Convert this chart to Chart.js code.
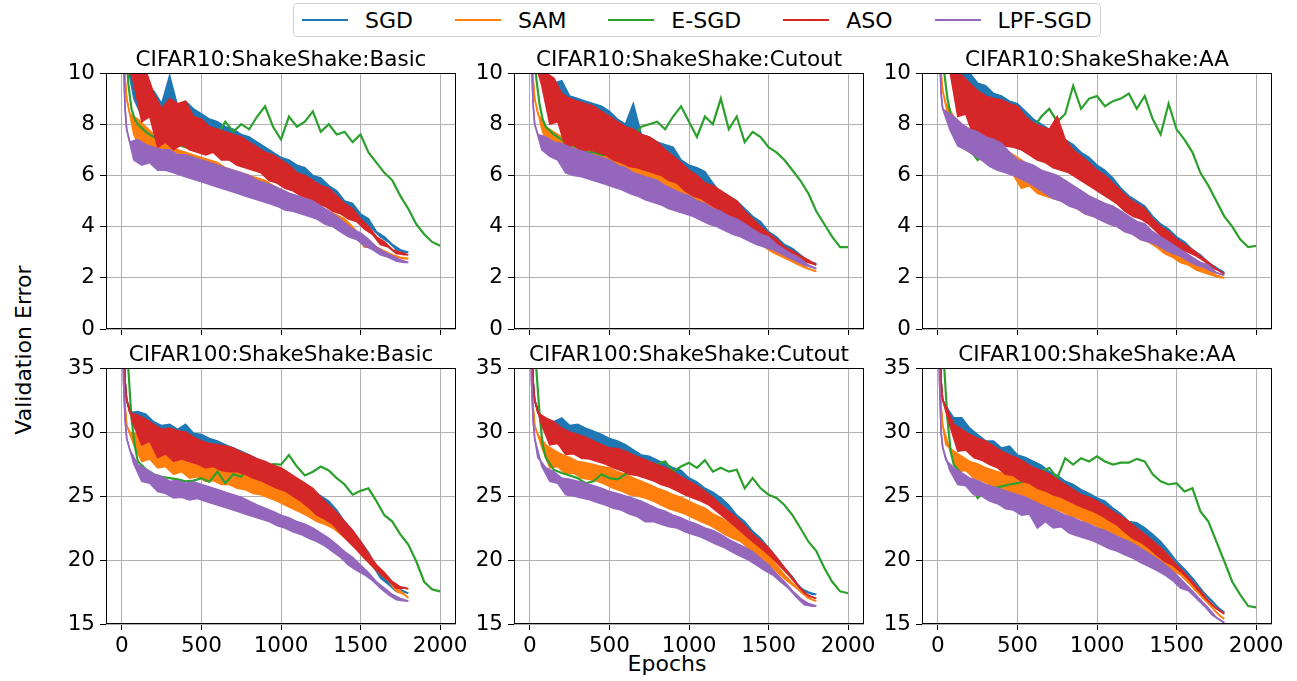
<!DOCTYPE html>
<html>
<head>
<meta charset="utf-8">
<script src="https://cdn.jsdelivr.net/npm/chart.js@4.4.0/dist/chart.umd.min.js"></script>
<style>
  body { margin: 0; background: #fff; width: 1297px; height: 681px; overflow: hidden; position: relative;
         font-family: "DejaVu Sans", sans-serif; color: #000; }
  canvas.panel { position: absolute; }
  #legend { position: absolute; left: 293px; top: 3px; height: 34px; box-sizing: border-box;
            border: 1px solid #d0d0d0; border-radius: 4px; display: flex; align-items: center;
            padding: 0 8px; font-size: 22px; background: #fff; }
  #legend .handle { display: inline-block; width: 46px; height: 2.5px; margin-right: 17px; }
  #legend .lbl { margin-right: 42px; }
  #legend .lbl:last-child { margin-right: 0; }
  #ylabel { position: absolute; left: 23px; top: 350px; font-size: 22px; white-space: nowrap;
            transform: translate(-50%, -50%) rotate(-90deg); }
  #xlabel { position: absolute; left: 667px; top: 653px; font-size: 22px; line-height: 22px;
            transform: translateX(-50%); }
</style>
</head>
<body>
<div id="legend"></div>
<div id="ylabel">Validation Error</div>
<div id="xlabel">Epochs</div>

<script>
// From index 4 on, the noisy runs alternate: top of the noise band, bottom of the band.
const EPOCHS = [0,10,20,30,50,75,100,125,150,175,200,225,250,275,300,325,350,375,400,425,450,475,500,525,550,575,600,625,650,675,700,725,750,775,800,825,850,875,900,925,950,975,1000,1025,1050,1075,1100,1125,1150,1175,1200,1225,1250,1275,1300,1325,1350,1375,1400,1425,1450,1475,1500,1525,1550,1575,1600,1625,1650,1675,1700,1725,1750,1775,1800];
const ESGD_EPOCHS = [0,20,40,60,80,100,150,200,250,300,350,400,450,500,550,600,650,700,750,800,850,900,950,1000,1050,1100,1150,1200,1250,1300,1350,1400,1450,1500,1550,1600,1650,1700,1750,1800,1850,1900,1950,2000];

const X_TICKS = [0, 500, 1000, 1500, 2000];
const Y_TICKS_C10 = [0, 2, 4, 6, 8, 10];
const Y_TICKS_C100 = [15, 20, 25, 30, 35];

const SERIES = ['SGD', 'SAM', 'E-SGD', 'ASO', 'LPF-SGD'];
const COLORS = ['#1f77b4', '#ff7f0e', '#2ca02c', '#d62728', '#9467bd'];

// ---- CIFAR10 : ShakeShake : Basic ----
const c10Basic_sgd = [18,14,11.5,10.5, 10.2,9.0,
  9.8,8.3,9.4,8.4, 9.3,7.7,8.8,7.9, 9.9,7.6,8.7,7.5, 8.9,7.4,8.6,7.3, 8.4,7.2,8.2,7.1,
  8.1,6.9,7.9,7.0, 7.8,6.7,7.6,6.6, 7.5,6.5,7.3,6.4, 7.1,6.2,6.9,6.1, 6.7,5.8,6.6,5.7,
  6.4,5.5,6.3,5.4, 6.0,5.2,5.9,5.1, 5.6,4.9,5.4,4.8, 5.0,4.6,4.9,4.5, 4.5,4.1,4.3,3.9,
  3.8,3.6,3.6,3.4, 3.3,3.1,3.1,3.0, 3.0];
const c10Basic_sam = [17,12,9.8,9.0, 8.4,7.6,
  8.2,6.9,7.9,7.0, 7.6,6.5,7.4,6.5, 7.1,6.4,7.0,6.3, 6.9,6.2,6.8,6.1, 6.7,6.0,6.6,5.9,
  6.5,5.8,6.3,5.7, 6.2,5.6,6.1,5.5, 6.0,5.4,5.9,5.3, 5.8,5.2,5.6,5.0, 5.45,4.9,5.3,4.8,
  5.2,4.6,5.0,4.5, 4.95,4.4,4.75,4.3, 4.6,4.1,4.45,4.0, 4.3,3.8,4.0,3.6, 3.6,3.2,3.4,3.2,
  3.2,3.0,3.05,2.95, 2.9,2.8,2.8,2.75, 2.75];
const c10Basic_esgd = [18,12,9.6,8.6,8.2,8.0,
  7.7,7.5,7.3,7.4,7.2,7.1,7.3,7.5,7.7,7.6,
  8.1,7.7,8.0,7.8,8.3,8.7,7.9,7.4,8.3,7.9,
  8.1,8.5,7.7,8.0,7.6,7.7,7.3,7.6,6.9,6.5,
  6.1,5.8,5.2,4.7,4.1,3.7,3.4,3.25];
const c10Basic_aso = [18,14,11.5,10.5, 10.3,9.6,
  10.0,8.1,10.1,8.3, 9.2,7.1,8.6,7.3, 9.0,7.0,8.8,7.2, 8.9,7.0,8.3,6.9, 8.2,6.8,7.9,6.9,
  7.8,6.6,7.7,6.6, 7.6,6.4,7.5,6.3, 7.3,6.2,7.1,6.1, 6.9,5.8,6.8,5.7, 6.6,5.5,6.4,5.4,
  6.1,5.2,6.0,5.1, 5.8,4.9,5.6,4.8, 5.5,4.6,5.2,4.5, 4.9,4.3,4.7,4.2, 4.3,3.9,4.0,3.7,
  3.6,3.3,3.4,3.2, 3.1,2.95,3.0,2.9, 2.9];
const c10Basic_lpf = [16,10.5,8.6,7.8, 7.3,6.6,
  7.4,6.4,7.2,6.5, 7.1,6.2,7.0,6.2, 7.0,6.1,6.8,6.0, 6.8,5.9,6.7,5.8, 6.6,5.7,6.5,5.6,
  6.4,5.5,6.3,5.4, 6.2,5.3,6.1,5.2, 6.0,5.1,5.8,5.0, 5.7,4.9,5.6,4.8, 5.45,4.65,5.3,4.6,
  5.2,4.5,5.1,4.4, 5.0,4.3,4.8,4.1, 4.6,4.0,4.4,3.8, 4.15,3.6,3.9,3.5, 3.75,3.25,3.5,3.1,
  3.2,2.9,3.0,2.8, 2.85,2.65,2.7,2.6, 2.6];

// ---- CIFAR10 : ShakeShake : Cutout ----
const c10Cutout_sgd = [18,14,11.5,10.5, 10.2,9.7,
  10.0,8.3,9.6,8.4, 9.7,7.6,9.1,7.6, 9.0,7.3,8.9,7.2, 8.8,7.0,8.7,7.0, 8.5,6.8,8.2,6.7,
  8.0,6.5,8.8,6.6, 7.6,6.3,7.5,6.2, 7.3,6.1,7.2,6.0, 7.1,5.9,6.6,5.7, 6.4,5.4,6.3,5.3,
  6.15,5.0,5.7,4.9, 5.3,4.5,5.2,4.5, 5.0,4.3,4.7,4.1, 4.4,3.9,4.2,3.7, 3.8,3.45,3.6,3.3,
  3.3,3.1,3.15,3.0, 2.9,2.7,2.65,2.6, 2.55];
const c10Cutout_sam = [17,12,9.8,9.0, 8.4,7.8,
  7.9,6.9,7.7,6.8, 7.5,6.4,7.3,6.3, 7.2,6.2,7.1,6.1, 7.0,6.0,6.9,5.8, 6.8,5.6,6.6,5.6,
  6.5,5.5,6.4,5.4, 6.3,5.3,6.2,5.2, 6.1,5.1,5.9,5.0, 5.8,4.9,5.6,4.7, 5.5,4.6,5.3,4.5,
  5.2,4.3,5.0,4.2, 4.8,4.0,4.6,3.9, 4.4,3.7,4.1,3.6, 3.9,3.4,3.6,3.2, 3.4,3.0,3.1,2.85,
  2.9,2.7,2.75,2.55, 2.6,2.4,2.35,2.3, 2.25];
const c10Cutout_esgd = [18,12,9.8,8.8,8.2,7.9,
  7.6,7.4,7.2,7.1,6.9,6.9,6.8,6.8,7.0,7.3,
  7.5,7.9,8.0,8.1,7.8,8.3,8.7,8.1,7.5,8.3,
  8.0,9.0,7.8,8.3,7.3,7.7,7.5,7.1,6.9,6.6,
  6.2,5.8,5.3,4.6,4.1,3.6,3.2,3.2];
const c10Cutout_aso = [18,14,11.5,10.5, 10.1,9.5,
  10.0,8.0,9.8,8.1, 9.2,7.1,9.0,7.2, 8.9,6.95,8.8,7.0, 8.7,6.9,8.5,6.8, 8.3,6.6,8.1,6.5,
  7.9,6.35,7.8,6.3, 7.6,6.2,7.5,6.1, 7.3,6.0,7.0,5.8, 6.75,5.7,6.5,5.4, 6.2,5.2,6.0,5.1,
  5.7,4.9,5.6,4.7, 5.4,4.5,5.2,4.4, 5.0,4.2,4.6,4.0, 4.3,3.75,4.0,3.6, 3.75,3.35,3.5,3.2,
  3.2,3.0,3.05,2.9, 2.85,2.65,2.7,2.55, 2.5];
const c10Cutout_lpf = [16,10.5,8.8,8.0, 7.6,7.0,
  7.5,6.75,7.3,6.6, 7.25,6.1,7.1,6.0, 7.0,5.95,6.9,5.85, 6.8,5.75,6.7,5.65, 6.6,5.55,6.4,5.45,
  6.3,5.3,6.1,5.2, 6.0,5.05,5.9,4.95, 5.8,4.85,5.6,4.7, 5.45,4.6,5.3,4.5, 5.2,4.4,5.0,4.25,
  4.9,4.1,4.7,4.0, 4.6,3.85,4.4,3.7, 4.3,3.6,4.1,3.45, 3.9,3.3,3.7,3.2, 3.6,3.1,3.3,2.95,
  3.1,2.8,2.9,2.65, 2.75,2.5,2.5,2.4, 2.35];

// ---- CIFAR10 : ShakeShake : AA ----
const c10AA_sgd = [18,14,12,11, 10.5,10.2,
  10.0,8.5,10.3,8.6, 10.0,7.7,9.6,7.8, 9.5,7.5,9.2,7.4, 9.1,7.3,8.9,7.2, 8.8,7.1,8.5,6.9,
  8.2,6.7,8.0,6.6, 7.8,6.4,7.6,6.3, 7.4,6.1,7.2,6.0, 6.9,5.8,6.7,5.6, 6.4,5.4,6.2,5.2,
  5.9,5.0,5.5,4.8, 5.2,4.5,5.0,4.4, 4.8,4.2,4.4,3.9, 4.1,3.6,3.9,3.5, 3.6,3.2,3.4,3.05,
  3.1,2.9,2.9,2.7, 2.6,2.45,2.4,2.3, 2.2];
const c10AA_sam = [17,12,10,9.3, 8.8,8.0,
  8.3,7.2,8.0,7.0, 7.8,6.8,7.6,6.6, 7.4,6.5,7.2,6.3, 7.1,6.2,6.9,6.0, 6.7,5.5,6.5,5.6,
  6.3,5.3,6.2,5.2, 6.0,5.1,5.8,5.0, 5.7,4.9,5.5,4.7, 5.3,4.5,5.1,4.4, 5.0,4.4,4.8,4.2,
  4.6,4.0,4.4,3.9, 4.2,3.7,4.0,3.5, 3.8,3.4,3.6,3.2, 3.4,2.95,3.2,2.8, 2.95,2.6,2.75,2.5,
  2.6,2.3,2.4,2.2, 2.3,2.1,2.1,2.0, 2.0];
const c10AA_esgd = [18,12,10,9.0,8.4,8.0,
  7.4,7.0,6.6,6.9,7.1,7.3,7.2,7.5,7.6,7.85,
  8.3,8.6,8.1,8.4,9.5,8.6,9.0,9.1,8.7,8.9,
  9.0,9.2,8.6,9.1,8.2,7.6,8.8,7.8,7.4,6.9,
  6.1,5.6,5.0,4.4,4.0,3.5,3.2,3.25];
const c10AA_aso = [18,14,12,11, 10.4,10.1,
  10.0,8.3,9.9,8.4, 9.6,7.5,9.3,7.6, 9.1,7.4,9.0,7.3, 8.95,7.15,8.8,7.1, 8.7,7.0,8.3,6.8,
  8.05,6.6,7.9,6.5, 7.8,6.3,8.3,6.2, 7.4,6.1,7.0,5.9, 6.75,5.7,6.5,5.5, 6.2,5.3,6.0,5.1,
  5.7,4.9,5.4,4.6, 5.1,4.4,4.9,4.3, 4.7,4.1,4.3,3.8, 4.0,3.5,3.8,3.3, 3.5,3.1,3.3,3.0,
  3.1,2.85,2.85,2.65, 2.6,2.4,2.35,2.25, 2.15];
const c10AA_lpf = [16,11,9.2,8.6, 8.5,7.8,
  8.3,7.15,8.0,7.0, 7.8,6.8,7.7,6.6, 7.5,6.35,7.4,6.2, 7.25,6.1,6.9,6.0, 6.6,5.85,6.5,5.7,
  6.4,5.5,6.2,5.3, 6.1,5.1,6.0,5.0, 5.8,4.8,5.6,4.7, 5.4,4.5,5.2,4.4, 5.05,4.25,4.9,4.1,
  4.8,4.0,4.6,3.8, 4.4,3.7,4.2,3.5, 4.1,3.4,3.8,3.3, 3.6,3.1,3.4,2.95, 3.2,2.85,3.0,2.65,
  2.8,2.5,2.6,2.4, 2.5,2.25,2.2,2.15, 2.1];

// ---- CIFAR100 : ShakeShake : Basic ----
const c100Basic_sgd = [45,38,34,32.5, 31.5,31.2,
  31.6,30.0,31.4,30.2, 30.8,29.0,30.5,29.2, 30.6,28.5,30.2,28.6, 30.6,28.2,29.9,28.3, 29.8,27.7,29.5,27.9,
  29.3,27.6,29.0,27.5, 28.75,27.45,28.5,27.2, 28.2,26.9,27.9,26.6, 27.5,26.3,27.2,26.0, 26.7,25.6,26.5,25.3,
  26.15,24.85,25.8,24.5, 25.4,24.0,25.0,23.7, 24.6,23.0,23.9,22.3, 23.0,21.45,22.3,21.0, 21.45,20.15,20.6,19.6,
  19.4,18.6,18.8,18.1, 18.1,17.55,17.7,17.5, 17.4];
const c100Basic_sam = [44,36,32,30.5, 30.0,29.0,
  29.8,27.7,29.4,27.9, 29.0,27.2,28.8,27.3, 28.5,26.7,28.4,26.9, 28.2,26.4,28.0,26.5, 27.95,26.15,27.7,26.2,
  27.6,25.9,27.4,25.9, 27.2,25.6,27.0,25.5, 26.8,25.2,26.6,25.1, 26.4,24.85,26.0,24.6, 25.6,24.3,25.3,24.0,
  25.0,23.7,24.7,23.4, 24.3,23.0,23.9,22.8, 23.5,22.5,23.1,22.0, 22.5,21.45,21.9,20.9, 21.2,20.15,20.4,19.6,
  19.6,18.9,19.0,18.4, 18.1,17.55,17.6,17.3, 17.05];
const c100Basic_esgd = [48,42,35,31.1,29.0,27.7,
  27.1,26.7,26.5,26.4,26.3,26.15,26.2,26.4,26.1,26.9,
  26.0,26.7,26.5,27.45,27.6,27.2,27.5,27.45,28.2,27.3,
  26.6,26.9,27.3,27.0,26.4,25.9,25.1,25.4,25.6,24.6,
  23.5,23.0,22.0,21.2,19.9,18.3,17.7,17.55];
const c100Basic_aso = [45,38,34,32.5, 31.5,30.5,
  31.3,29.0,31.0,29.3, 30.6,28.0,30.2,28.3, 30.3,27.7,30.1,27.9, 30.0,27.7,29.6,27.5, 29.3,27.2,29.1,27.3,
  29.0,27.0,28.9,26.9, 28.75,26.9,28.4,26.7, 28.2,26.4,27.9,26.2, 27.7,25.9,27.4,25.6, 27.2,25.4,26.8,25.0,
  26.4,24.6,26.0,24.1, 25.6,23.5,24.9,23.2, 24.3,22.8,23.7,22.1, 23.0,21.45,22.3,20.8, 21.45,20.15,20.5,19.5,
  19.6,18.9,19.0,18.4, 18.3,17.8,17.9,17.8, 17.75];
const c100Basic_lpf = [43,34,31,29.5, 28.6,27.5,
  27.45,26.15,27.1,26.0, 26.7,25.35,26.5,25.2, 26.15,24.85,26.2,24.9, 26.0,24.7,26.1,24.8, 25.9,24.6,25.7,24.4,
  25.5,24.2,25.3,24.0, 25.1,23.8,24.9,23.6, 24.6,23.4,24.3,23.2, 24.05,23.0,23.8,22.7, 23.5,22.5,23.3,22.2,
  23.0,22.0,22.8,21.7, 22.5,21.45,22.1,21.1, 21.7,20.65,21.2,20.2, 20.65,19.6,20.2,19.2, 19.6,18.85,19.0,18.4,
  18.3,17.8,17.8,17.3, 17.3,16.9,17.0,16.8, 16.8];

// ---- CIFAR100 : ShakeShake : Cutout ----
const c100Cutout_sgd = [45,38,34,32.5, 31.5,31.0,
  31.0,29.5,30.8,29.6, 31.1,29.3,30.5,29.1, 30.6,28.8,30.3,28.7, 30.05,28.5,29.8,28.3, 29.5,28.0,29.3,27.8,
  29.0,27.45,28.6,27.4, 28.2,27.2,28.1,26.9, 27.8,26.7,27.5,26.5, 27.2,26.15,27.0,26.0, 26.4,25.4,26.1,25.2,
  25.6,24.85,25.3,24.4, 24.85,23.8,24.3,23.4, 23.5,22.75,23.0,22.2, 22.25,21.45,21.7,21.0, 20.95,20.15,20.2,19.6,
  19.4,18.85,18.7,18.2, 17.8,17.55,17.5,17.3, 17.3];
const c100Cutout_sam = [44,36,32,30.5, 29.8,28.8,
  29.0,27.2,28.6,27.3, 28.25,26.7,28.0,26.8, 27.7,26.4,27.6,26.3, 27.45,26.15,27.3,25.9, 27.2,25.6,26.9,25.4,
  26.7,25.1,26.4,25.0, 26.15,24.85,25.9,24.6, 25.6,24.3,25.4,24.0, 25.1,23.8,24.9,23.6, 24.6,23.3,24.3,23.0,
  24.05,22.75,23.6,22.4, 23.3,22.0,22.9,21.7, 22.5,21.45,22.0,20.9, 21.45,20.4,20.9,19.9, 20.4,19.4,19.6,18.8,
  18.85,18.3,18.2,17.8, 17.55,17.3,17.0,16.9, 16.8];
const c100Cutout_esgd = [48,42,35,31.5,29.0,28.0,
  27.05,26.8,26.6,26.4,26.0,26.15,26.7,26.4,26.3,26.7,
  26.9,27.2,27.2,27.45,27.7,26.9,27.3,27.6,27.2,27.8,
  26.9,27.2,26.9,27.05,25.6,26.4,25.6,25.1,24.85,24.3,
  23.5,22.5,21.45,20.7,19.4,18.3,17.55,17.4];
const c100Cutout_aso = [45,38,34,32.5, 31.5,30.5,
  31.1,29.0,30.8,29.1, 30.3,28.25,30.0,28.3, 29.8,27.95,29.6,27.9, 29.3,27.7,29.0,27.5, 28.75,27.2,28.7,27.0,
  28.5,26.7,28.2,26.6, 27.95,26.4,27.7,26.2, 27.45,25.9,27.2,25.7, 26.9,25.4,26.5,25.1, 26.15,24.85,25.8,24.6,
  25.35,24.3,24.9,23.8, 24.3,23.3,23.8,22.8, 23.3,22.25,22.7,21.7, 22.0,21.2,21.5,20.7, 20.95,20.15,20.2,19.5,
  19.4,18.85,18.6,18.1, 17.8,17.4,17.2,17.1, 17.0];
const c100Cutout_lpf = [43,34,31,29.5, 28.0,27.3,
  27.2,26.15,26.9,26.0, 26.4,25.1,26.3,25.0, 26.15,24.85,26.0,24.7, 25.8,24.5,25.6,24.3, 25.35,24.05,25.2,23.9,
  25.0,23.6,24.8,23.4, 24.6,23.0,24.3,23.0, 24.0,22.8,23.8,22.6, 23.5,22.5,23.3,22.2, 23.0,22.0,22.8,21.8,
  22.5,21.5,22.3,21.2, 22.0,20.95,21.6,20.6, 21.3,20.3,21.0,20.0, 20.65,19.6,20.1,19.2, 19.6,18.85,18.9,18.3,
  18.3,17.8,17.6,17.1, 17.0,16.5,16.6,16.4, 16.4];

// ---- CIFAR100 : ShakeShake : AA ----
const c100AA_sgd = [45,38,34,32.5, 32.0,31.5,
  31.1,29.3,31.1,29.4, 30.3,28.5,29.8,28.4, 29.3,27.8,29.3,27.9, 28.75,27.45,28.9,27.3, 28.2,26.9,28.0,26.8,
  27.7,26.15,27.4,26.1, 26.9,25.6,26.6,25.4, 26.15,25.1,25.9,24.8, 25.5,24.4,25.2,24.1, 24.85,23.8,24.6,23.5,
  24.05,23.0,23.6,22.6, 23.0,22.0,22.9,21.8, 22.5,21.45,22.0,20.9, 21.45,20.4,20.7,19.9, 19.9,19.4,19.3,18.8,
  18.6,18.1,17.8,17.4, 17.0,16.8,16.4,16.1, 15.9];
const c100AA_sam = [44,36,32,30.5, 29.0,28.6,
  28.5,26.9,28.1,27.0, 27.7,26.4,27.5,26.2, 27.2,25.9,27.0,25.7, 26.8,25.4,26.6,25.2, 26.4,24.85,26.1,24.7,
  25.9,24.4,25.6,24.2, 25.35,24.05,25.1,23.8, 24.8,23.5,24.6,23.3, 24.3,23.0,24.0,22.8, 23.8,22.5,23.4,22.2,
  23.1,21.8,22.8,21.5, 22.5,21.2,22.1,20.8, 21.7,20.4,21.3,20.0, 20.95,19.6,20.3,19.2, 19.6,18.85,18.9,18.2,
  18.1,17.55,17.4,16.9, 16.8,16.25,15.9,15.6, 15.4];
const c100AA_esgd = [48,42,35,31.0,28.5,27.45,
  26.7,26.15,24.85,25.35,25.6,25.75,25.9,26.0,26.2,26.7,
  26.9,27.2,26.4,27.95,27.45,27.95,27.7,28.1,27.7,27.45,
  27.6,27.6,27.9,27.7,26.7,26.15,25.9,26.0,25.35,25.6,
  23.8,23.0,21.45,19.9,18.3,17.3,16.4,16.3];
const c100AA_aso = [45,38,34,32.5, 32.0,30.5,
  30.6,28.5,30.2,28.6, 29.8,28.0,29.5,27.8, 29.3,27.45,28.9,27.2, 28.5,26.7,28.2,26.6, 27.95,26.15,27.6,26.0,
  27.2,25.6,27.0,25.4, 26.7,25.1,26.3,24.9, 25.9,24.6,25.5,24.3, 25.1,24.05,24.9,23.8, 24.6,23.5,24.2,23.1,
  23.8,22.75,23.4,22.2, 23.0,21.7,22.5,21.4, 22.0,20.95,21.5,20.4, 20.95,19.9,20.3,19.6, 19.6,19.1,19.0,18.5,
  18.3,17.8,17.6,17.1, 16.8,16.5,16.2,16.0, 15.8];
const c100AA_lpf = [43,34,30,28.8, 27.8,27.0,
  27.2,25.9,26.8,25.8, 26.4,25.1,26.2,25.0, 25.9,24.6,25.7,24.4, 25.5,24.0,25.3,23.9, 25.1,23.5,24.9,23.6,
  24.6,22.5,24.3,23.0, 24.05,22.5,23.8,22.6, 23.5,22.1,23.3,21.9, 23.0,21.7,22.8,21.5, 22.5,21.2,22.3,20.9,
  22.0,20.7,21.7,20.4, 21.45,20.15,21.1,19.8, 20.7,19.5,20.3,19.2, 19.9,18.85,19.4,18.4, 18.85,17.8,18.2,17.6,
  17.55,17.0,16.9,16.4, 16.25,15.7,15.5,15.3, 15.1];

const PANELS = [
  { title: 'CIFAR10:ShakeShake:Basic',   row: 0, col: 0, yTicks: Y_TICKS_C10,  data: [c10Basic_sgd, c10Basic_sam, c10Basic_esgd, c10Basic_aso, c10Basic_lpf] },
  { title: 'CIFAR10:ShakeShake:Cutout',  row: 0, col: 1, yTicks: Y_TICKS_C10,  data: [c10Cutout_sgd, c10Cutout_sam, c10Cutout_esgd, c10Cutout_aso, c10Cutout_lpf] },
  { title: 'CIFAR10:ShakeShake:AA',      row: 0, col: 2, yTicks: Y_TICKS_C10,  data: [c10AA_sgd, c10AA_sam, c10AA_esgd, c10AA_aso, c10AA_lpf] },
  { title: 'CIFAR100:ShakeShake:Basic',  row: 1, col: 0, yTicks: Y_TICKS_C100, data: [c100Basic_sgd, c100Basic_sam, c100Basic_esgd, c100Basic_aso, c100Basic_lpf] },
  { title: 'CIFAR100:ShakeShake:Cutout', row: 1, col: 1, yTicks: Y_TICKS_C100, data: [c100Cutout_sgd, c100Cutout_sam, c100Cutout_esgd, c100Cutout_aso, c100Cutout_lpf] },
  { title: 'CIFAR100:ShakeShake:AA',     row: 1, col: 2, yTicks: Y_TICKS_C100, data: [c100AA_sgd, c100AA_sam, c100AA_esgd, c100AA_aso, c100AA_lpf] },
];

const FONT = '"DejaVu Sans", sans-serif';
Chart.defaults.font.family = FONT;
Chart.defaults.color = '#000';

// legend in the page header
const legend = document.getElementById('legend');
SERIES.forEach((name, i) => {
  const h = document.createElement('span');
  h.className = 'handle';
  h.style.background = COLORS[i];
  legend.appendChild(h);
  const t = document.createElement('span');
  t.className = 'lbl';
  t.textContent = name;
  legend.appendChild(t);
});

// split a noisy run into the top and bottom edge of its band
function bandEdges(vals) {
  const top = [], bottom = [];
  vals.forEach((v, k) => {
    const pt = { x: EPOCHS[k], y: v };
    if (k < 4 || k === vals.length - 1) { top.push(pt); bottom.push(pt); }
    else if ((k - 4) % 2 === 0) top.push(pt);
    else bottom.push(pt);
  });
  return [top, bottom];
}

// black box round the plot area + panel title
const framePlugin = {
  id: 'frame',
  afterDatasetsDraw(chart, args, opts) {
    const ctx = chart.ctx, a = chart.chartArea;
    ctx.save();
    ctx.strokeStyle = '#000';
    ctx.lineWidth = 1;
    ctx.strokeRect(Math.round(a.left) + 0.5, Math.round(a.top) + 0.5,
                   Math.round(a.width) - 1, Math.round(a.height) - 1);
    ctx.fillStyle = '#000';
    ctx.font = '21.5px ' + FONT;
    ctx.textAlign = 'center';
    ctx.textBaseline = 'alphabetic';
    ctx.fillText(opts.text, (a.left + a.right) / 2, a.top - 7);
    ctx.restore();
  }
};

const PLOT_LEFT = [106, 514, 922];
const PLOT_TOP = [73, 368];
const PLOT_W = 350, PLOT_H = 256;
const PAD_L = 70, PAD_T = 40, PAD_R = 35, PAD_B = 45;

PANELS.forEach(p => {
  const cv = document.createElement('canvas');
  cv.className = 'panel';
  cv.width = PAD_L + PLOT_W + PAD_R;
  cv.height = PAD_T + PLOT_H + PAD_B;
  cv.style.left = (PLOT_LEFT[p.col] - PAD_L) + 'px';
  cv.style.top = (PLOT_TOP[p.row] - PAD_T) + 'px';
  cv.style.width = cv.width + 'px';
  cv.style.height = cv.height + 'px';
  document.body.appendChild(cv);

  const datasets = [];
  SERIES.forEach((name, i) => {
    const order = SERIES.length - i;   // later series drawn on top
    if (name === 'E-SGD') {
      datasets.push({
        label: name,
        data: ESGD_EPOCHS.map((e, k) => ({ x: e, y: p.data[i][k] })),
        borderColor: COLORS[i], borderWidth: 2.2, pointRadius: 0, tension: 0, fill: false, order
      });
    } else {
      const [top, bottom] = bandEdges(p.data[i]);
      datasets.push({
        label: name, data: top,
        borderColor: COLORS[i], borderWidth: 1.6, pointRadius: 0, tension: 0, fill: false, order
      });
      datasets.push({
        label: name + ' low', data: bottom,
        borderColor: COLORS[i], backgroundColor: COLORS[i], borderWidth: 1.6, pointRadius: 0, tension: 0,
        fill: '-1', order
      });
    }
  });

  new Chart(cv.getContext('2d'), {
    type: 'line',
    data: { datasets },
    options: {
      responsive: false,
      animation: false,
      devicePixelRatio: 1,
      layout: { padding: { left: 0, top: PAD_T, right: PAD_R, bottom: 0 } },
      plugins: {
        legend: { display: false }, tooltip: { enabled: false },
        filler: { propagate: false },
        frame: { text: p.title }
      },
      scales: {
        x: {
          type: 'linear', min: -100, max: 2100,
          afterBuildTicks: s => { s.ticks = X_TICKS.map(v => ({ value: v })); },
          afterFit: s => { s.height = PAD_B; },
          grid: { color: '#b0b0b0', lineWidth: 1, tickColor: '#000', tickLength: 6 },
          border: { display: false },
          ticks: { display: p.row === 1, font: { size: 21.5 }, padding: 4, maxRotation: 0, autoSkip: false,
                   callback: v => String(v) }
        },
        y: {
          type: 'linear', min: p.yTicks[0], max: p.yTicks[p.yTicks.length - 1],
          afterBuildTicks: s => { s.ticks = p.yTicks.map(v => ({ value: v })); },
          afterFit: s => { s.width = PAD_L; },
          grid: { color: '#b0b0b0', lineWidth: 1, tickColor: '#000', tickLength: 6 },
          border: { display: false },
          ticks: { font: { size: 21.5 }, padding: 5, autoSkip: false, callback: v => String(v) }
        }
      }
    },
    plugins: [framePlugin]
  });
});
</script>
</body>
</html>
